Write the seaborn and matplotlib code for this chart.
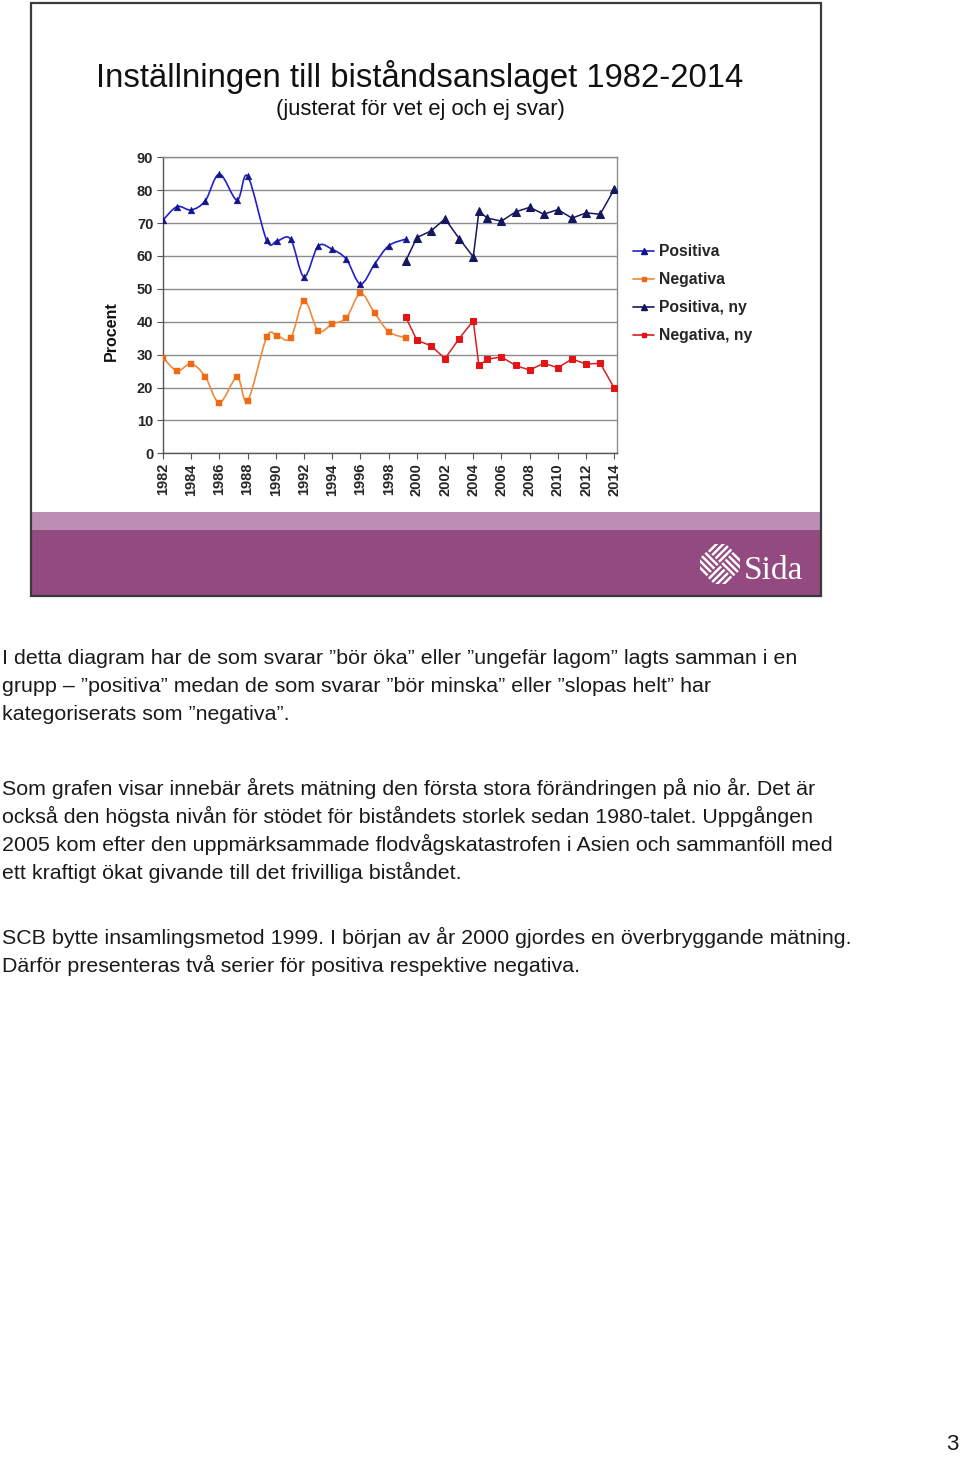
import numpy as np
import matplotlib
matplotlib.use("Agg")
import matplotlib.pyplot as plt
from matplotlib.patches import Rectangle, PathPatch
from matplotlib.path import Path
from matplotlib.lines import Line2D
import seaborn as sns

# ---------------- data ----------------
years_old = [1982, 1983, 1984, 1985, 1986, 1987.25, 1988, 1989.35, 1990.1, 1991.05,
             1992, 1993, 1994, 1995, 1996, 1997, 1998, 1999.2]
pos_old = [70.9, 75.0, 74.0, 76.8, 84.9, 77.0, 84.3, 64.8, 64.6, 65.1,
           53.7, 63.0, 62.0, 59.0, 51.5, 57.5, 63.1, 65.1]
neg_old = [29.1, 25.1, 27.2, 23.3, 15.4, 23.1, 16.0, 35.3, 35.7, 35.0,
           46.4, 37.3, 39.3, 41.2, 48.6, 42.7, 37.0, 35.1]

years_new = [1999.2, 2000, 2001, 2002, 2003, 2004, 2004.4, 2005, 2006, 2007,
             2008, 2009, 2010, 2011, 2012, 2013, 2014]
pos_new = [58.4, 65.6, 67.6, 71.3, 65.3, 59.7, 73.6, 71.5, 70.6, 73.4,
           74.8, 72.7, 74.1, 71.5, 73.1, 72.7, 80.3]
neg_new = [41.5, 34.4, 32.7, 28.8, 34.9, 40.3, 26.7, 28.6, 29.3, 26.7,
           25.3, 27.4, 26.0, 28.7, 27.1, 27.4, 19.8]

series_labels = ["Positiva", "Negativa", "Positiva, ny", "Negativa, ny"]
y_ticks = [0, 10, 20, 30, 40, 50, 60, 70, 80, 90]
x_ticks = list(range(1982, 2015, 2))

title = "Inställningen till biståndsanslaget 1982-2014"
subtitle = "(justerat för vet ej och ej svar)"
body_lines = [
    (658, "I detta diagram har de som svarar ”bör öka” eller ”ungefär lagom” lagts samman i en"),
    (686, "grupp – ”positiva” medan de som svarar ”bör minska” eller ”slopas helt” har"),
    (714, "kategoriserats som ”negativa”."),
    (788, "Som grafen visar innebär årets mätning den första stora förändringen på nio år. Det är"),
    (816, "också den högsta nivån för stödet för biståndets storlek sedan 1980-talet. Uppgången"),
    (844, "2005 kom efter den uppmärksammade flodvågskatastrofen i Asien och sammanföll med"),
    (872, "ett kraftigt ökat givande till det frivilliga biståndet."),
    (937, "SCB bytte insamlingsmetod 1999. I början av år 2000 gjordes en överbryggande mätning."),
    (965, "Därför presenteras två serier för positiva respektive negativa."),
]

# ---------------- style ----------------
sns.set_theme(style="white")
plt.rcParams['font.family'] = ['Liberation Sans', 'DejaVu Sans']

W, H = 960, 1457
fig = plt.figure(figsize=(W / 100, H / 100), dpi=100)
fig.patch.set_facecolor("white")


def fx(x):
    return x / W


def fy(y):
    return 1 - y / H


def rect_px(x0, y0, x1, y1, **kw):
    r = Rectangle((fx(x0), fy(y1)), (x1 - x0) / W, (y1 - y0) / H,
                  transform=fig.transFigure, **kw)
    fig.add_artist(r)
    return r


# slide frame
rect_px(31, 3, 821, 596, facecolor="white", edgecolor="none", zorder=-2)
rect_px(31, 512, 821, 530, facecolor="#bd8db5", edgecolor="none", zorder=-1)
rect_px(31, 530, 821, 596, facecolor="#934a80", edgecolor="none", zorder=-1)
rect_px(31, 3, 821, 596, facecolor="none", edgecolor="#3a3a3a", linewidth=1.6, zorder=6)

# Sida logo
lax = fig.add_axes([fx(700), fy(584), 40 / W, 40 / H])
lax.set_zorder(5)
lax.patch.set_visible(False)
lax.set_xlim(-1.05, 1.05)
lax.set_ylim(-1.05, 1.05)
lax.axis("off")
s2 = 1 / np.sqrt(2)


def rot(u, v):
    return ((u - v) * s2, (u + v) * s2)


for qi, (u0, v0) in enumerate([(-1, -1), (0, -1), (-1, 0), (0, 0)]):
    horiz = qi in (0, 3)
    for k in range(4):
        t = 0.12 + k * 0.25
        if horiz:
            p0 = rot(u0 + 0.04, v0 + t)
            p1 = rot(u0 + 0.96, v0 + t)
        else:
            p0 = rot(u0 + t, v0 + 0.04)
            p1 = rot(u0 + t, v0 + 0.96)
        lax.plot([p0[0], p1[0]], [p0[1], p1[1]], color="white", lw=1.8,
                 solid_capstyle="butt")
fig.text(fx(744), fy(579), "Sida", color="white", fontsize=24, zorder=7,
         family=["Liberation Serif", "DejaVu Serif"], ha="left", va="baseline")

# title
fig.text(fx(420), fy(77), title, fontsize=23.7, ha="center", va="center", color="#111111")
fig.text(fx(420), fy(109), subtitle, fontsize=15.8, ha="center", va="center", color="#111111")

# ---------------- chart ----------------
ax = fig.add_axes([fx(163), fy(453.3), (616.7 - 163) / W, (453.3 - 157.3) / H])
ax.set_facecolor("white")
ax.set_xlim(1982, 2014.17)
ax.set_ylim(0, 90)
ax.set_yticks(y_ticks)
ax.set_xticks(x_ticks)
ax.yaxis.grid(True, color="#8c8c8c", linewidth=1.0)
ax.xaxis.grid(False)
ax.set_axisbelow(True)
for sp in ax.spines.values():
    sp.set_visible(True)
    sp.set_color("#8c8c8c")
    sp.set_linewidth(1.0)
ax.spines["left"].set_color("#555555")
ax.spines["bottom"].set_color("#555555")
ax.tick_params(axis="both", which="major", direction="out", length=4, width=0.8,
               color="#555555", bottom=True, left=True, labelsize=10.5, pad=3)
ax.set_xticklabels([str(t) for t in x_ticks], rotation=90, fontweight="bold")
ax.set_yticklabels([str(t) for t in y_ticks], fontweight="bold")
ax.set_xlabel("")
ax.set_ylabel("")


def smooth_path(xs, ys):
    pts = np.column_stack([xs, ys]).astype(float)
    n = len(pts)
    verts = [pts[0]]
    codes = [Path.MOVETO]
    for i in range(n - 1):
        p0 = pts[i - 1] if i > 0 else pts[i]
        p1 = pts[i]
        p2 = pts[i + 1]
        p3 = pts[i + 2] if i + 2 < n else pts[i + 1]
        c1 = p1 + (p2 - p0) / 6.0
        c2 = p2 - (p3 - p1) / 6.0
        verts += [c1, c2, p2]
        codes += [Path.CURVE4] * 3
    return Path(verts, codes)


c_pos_old = "#2020cc"
c_pos_mark = "#14148c"
c_neg_old = "#ee8a3c"
c_neg_mark = "#f06a14"
c_pos_new = "#16165e"
c_neg_new = "#d42020"
c_neg_new_mark = "#e41414"

# old series: smoothed lines + markers
ax.add_patch(PathPatch(smooth_path(years_old, pos_old), facecolor="none",
                       edgecolor=c_pos_old, lw=1.2, zorder=3))
ax.add_patch(PathPatch(smooth_path(years_old, neg_old), facecolor="none",
                       edgecolor=c_neg_old, lw=1.2, zorder=3))
sns.scatterplot(x=years_old, y=pos_old, marker="^", s=24, color=c_pos_mark,
                edgecolor=c_pos_mark, linewidth=0.3, ax=ax, zorder=4)
sns.scatterplot(x=years_old, y=neg_old, marker="s", s=18, color=c_neg_mark,
                edgecolor=c_neg_mark, linewidth=0.3, ax=ax, zorder=4)

# new series: straight lines with markers
sns.lineplot(x=years_new, y=pos_new, color=c_pos_new, lw=1.1, marker="^",
             markersize=5.3, markerfacecolor=c_pos_new, markeredgecolor=c_pos_new,
             ax=ax, zorder=3, sort=False, estimator=None)
sns.lineplot(x=years_new, y=neg_new, color=c_neg_new, lw=1.1, marker="s",
             markersize=4.5, markerfacecolor=c_neg_new_mark,
             markeredgecolor=c_neg_new_mark, ax=ax, zorder=3, sort=False,
             estimator=None)
ax.set_xlim(1982, 2014.17)
ax.set_ylim(0, 90)

fig.text(fx(111), fy(331), "Procent", rotation=90, fontsize=11.5, fontweight="bold",
         ha="center", va="center", color="#111111")

handles = [
    Line2D([], [], color=c_pos_old, lw=1.2, marker="^", markersize=4, markerfacecolor=c_pos_mark, markeredgecolor=c_pos_mark),
    Line2D([], [], color=c_neg_old, lw=1.2, marker="s", markersize=3.5, markerfacecolor=c_neg_mark, markeredgecolor=c_neg_mark),
    Line2D([], [], color=c_pos_new, lw=1.2, marker="^", markersize=4, markerfacecolor=c_pos_new, markeredgecolor=c_pos_new),
    Line2D([], [], color=c_neg_new, lw=1.2, marker="s", markersize=3.5, markerfacecolor=c_neg_new_mark, markeredgecolor=c_neg_new_mark),
]
leg = fig.legend(handles, series_labels, loc="upper left",
                 bbox_to_anchor=(fx(633), fy(244)), bbox_transform=fig.transFigure,
                 frameon=False, borderaxespad=0, borderpad=0, handlelength=1.35,
                 handletextpad=0.3, labelspacing=0.83,
                 prop={"weight": "bold", "size": 11.3})

# ---------------- body text ----------------
for y, line in body_lines:
    fig.text(fx(2), fy(y), line, fontsize=15.4, ha="left", va="center", color="#1a1a1a")

fig.text(fx(958), fy(1444), "3", fontsize=16, ha="right", va="center", color="#1a1a1a")

fig.savefig("out.png", dpi=100, facecolor="white")
